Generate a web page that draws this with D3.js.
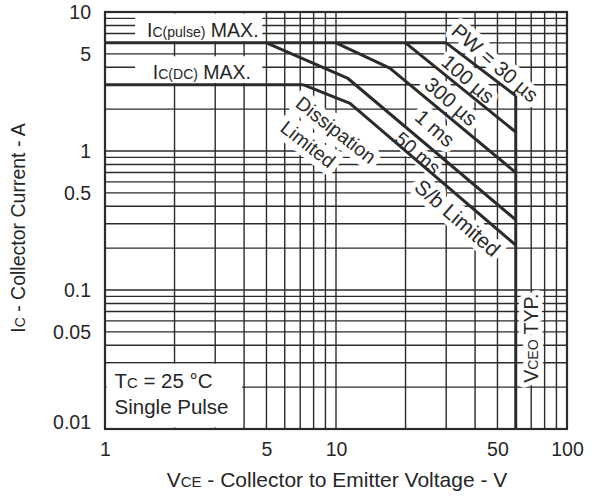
<!DOCTYPE html>
<html>
<head>
<meta charset="utf-8">
<script src="https://cdn.jsdelivr.net/npm/d3@7"></script>
<style>
  body { margin: 0; background: #fff; }
  text { font-family: "Liberation Sans", Arial, Helvetica, sans-serif; fill: #262626; }
</style>
</head>
<body>
<svg id="chart" width="597" height="497"></svg>
<script>
// Axis ticks
const xTicks = [1, 5, 10, 50, 100];
const xTickLabels = ["1", "5", "10", "50", "100"];
const yTicks = [0.01, 0.05, 0.1, 0.5, 1, 5, 10];
const yTickLabels = ["0.01", "0.05", "0.1", "0.5", "1", "5", "10"];

// Log grid lines (V and A)
const gridV = [2, 3, 4, 5, 6, 7, 8, 9, 10, 20, 30, 40, 50, 60, 70, 80, 90];
const gridI = [0.02, 0.03, 0.04, 0.05, 0.06, 0.07, 0.08, 0.09,
               0.1, 0.2, 0.3, 0.4, 0.5, 0.6, 0.7, 0.8, 0.9,
               1, 2, 3, 4, 5, 6, 7, 8, 9];

// Limits
const icPulseMax = [[1, 6], [30, 6]];      // A
const icDcMax    = [[1, 3], [7.2, 3]];     // A
const vceoTyp    = [[60, 2.5], [60, 0.01]]; // V

// Safe operating area boundaries, [VCE (V), IC (A)]
const pw30us  = [[30, 6], [60, 2.5]];
const pw100us = [[20, 6], [60, 1.37]];
const pw300us = [[10, 6], [17.1, 3.95], [60, 0.7]];
const pw1ms   = [[5, 6], [11.2, 3.35], [60, 0.32]];
const pw50ms  = [[7.2, 3], [11.5, 2.2], [60, 0.21]];

const svg = d3.select("#chart");
const margin = { left: 105, right: 30, top: 12, bottom: 68 };
const W = 597, H = 497;

const x = d3.scaleLog().domain([1, 100]).range([margin.left, W - margin.right]);
const y = d3.scaleLog().domain([0.01, 10]).range([H - margin.bottom, margin.top]);

const ink = "#2b2b2b";
const font = "'Liberation Sans', Arial, sans-serif";

// Grid
const grid = svg.append("g");
grid.selectAll("line.v").data(gridV).join("line")
  .attr("x1", d => x(d)).attr("x2", d => x(d))
  .attr("y1", y(10)).attr("y2", y(0.01))
  .attr("stroke", ink).attr("stroke-width", 1.4);
grid.selectAll("line.h").data(gridI).join("line")
  .attr("y1", d => y(d)).attr("y2", d => y(d))
  .attr("x1", x(1)).attr("x2", x(100))
  .attr("stroke", ink).attr("stroke-width", 1.4);

// White boxes behind the horizontal notes
const knock = svg.append("g").attr("fill", "#fff");
knock.append("rect")
  .attr("x", x(1.35)).attr("y", y(10) + 1.5)
  .attr("width", x(4.8) - x(1.35)).attr("height", y(6.15) - y(10) - 1.5);
knock.append("rect")
  .attr("x", x(1.35)).attr("y", y(4.8))
  .attr("width", x(4.8) - x(1.35)).attr("height", y(3.08) - y(4.8));
knock.append("rect")
  .attr("x", x(1) + 1.5).attr("y", y(0.0295))
  .attr("width", x(3.92) - x(1) - 1.5).attr("height", y(0.01) - y(0.0295) - 1.5);

// Rotated annotations: [text, V, I, angle, halo width, font size]
const notes = [
  ["PW = 30 µs", 48.8, 4.3, 41, 11, 20.5],
  ["100 µs", 37.3, 3.3, 41, 11, 20.5],
  ["300 µs", 31.5, 2.27, 41, 11, 20.5],
  ["1 ms", 26.8, 1.46, 41, 11, 20.5],
  ["50 ms", 22.6, 0.967, 41, 8, 19.5],
  ["S/b Limited", 33.6, 0.33, 41, 11, 21],
  ["Dissipation", 10.0, 1.42, 38, 13, 19.5],
  ["Limited", 7.56, 1.12, 38, 13, 19.5]
];

function drawNotes(g, halo) {
  g.selectAll("text").data(notes).join("text")
    .attr("transform", d => `translate(${x(d[1])},${y(d[2])}) rotate(${d[3]})`)
    .attr("text-anchor", "middle").attr("dy", "0.35em")
    .attr("font-size", d => d[5])
    .attr("stroke", halo ? "#fff" : "none")
    .attr("stroke-width", d => halo ? d[4] : 0)
    .attr("stroke-linejoin", "round")
    .style("fill", halo ? "#fff" : ink)
    .text(d => d[0]);
}
drawNotes(svg.append("g"), true);

// VCEO note
function vceoNote(g, halo) {
  const t = g.append("text")
    .attr("transform", `translate(${x(70)},${y(0.045)}) rotate(-90)`)
    .attr("text-anchor", "middle").attr("dy", "0.35em")
    .attr("font-size", 19.5)
    .attr("stroke", halo ? "#fff" : "none")
    .attr("stroke-width", halo ? 10 : 0)
    .attr("stroke-linejoin", "round")
    .style("fill", halo ? "#fff" : ink);
  t.append("tspan").text("V");
  t.append("tspan").attr("font-size", 14).text("CEO");
  t.append("tspan").text(" TYP.");
}
vceoNote(svg.append("g"), true);

// Frame
svg.append("rect")
  .attr("x", x(1)).attr("y", y(10))
  .attr("width", x(100) - x(1)).attr("height", y(0.01) - y(10))
  .attr("fill", "none").attr("stroke", ink).attr("stroke-width", 2.2);

// Boundaries
const line = d3.line().x(d => x(d[0])).y(d => y(d[1]));
const bounds = [icPulseMax, icDcMax, vceoTyp, pw30us, pw100us, pw300us, pw1ms, pw50ms];
svg.append("g").selectAll("path").data(bounds).join("path")
  .attr("d", line)
  .attr("fill", "none").attr("stroke", ink)
  .attr("stroke-width", 3).attr("stroke-linejoin", "round");

// Annotation text
drawNotes(svg.append("g"), false);
vceoNote(svg.append("g"), false);

// Horizontal notes
function subText(g, px, py, main, sub, rest, size) {
  const t = g.append("text").attr("x", px).attr("y", py).attr("font-size", size);
  t.append("tspan").text(main);
  t.append("tspan").attr("font-size", size * 0.72).text(sub);
  if (rest) t.append("tspan").text(rest);
  return t;
}
const noteG = svg.append("g");
subText(noteG, x(1.52), y(6.6), "I", "C(pulse)", " MAX.", 19.5);
subText(noteG, x(1.61), y(3.3), "I", "C(DC)", " MAX.", 19.5);
subText(noteG, x(1.1), y(0.0196), "T", "C", " = 25 °C", 20.5);
noteG.append("text").attr("x", x(1.1)).attr("y", y(0.0128))
  .attr("font-size", 20.5).text("Single Pulse");

// Axes
const xAxis = d3.axisBottom(x).tickValues(xTicks)
  .tickFormat((d, i) => xTickLabels[i]).tickSize(0).tickPadding(13);
const gx = svg.append("g").attr("transform", `translate(0,${y(0.01)})`).call(xAxis);
gx.select(".domain").remove();
gx.selectAll("text").attr("font-size", 19.5).style("font-family", font).attr("fill", ink);

const yAxis = d3.axisLeft(y).tickValues(yTicks)
  .tickFormat((d, i) => yTickLabels[i]).tickSize(0).tickPadding(14);
const gy = svg.append("g").attr("transform", `translate(${x(1)},0)`).call(yAxis);
gy.select(".domain").remove();
gy.selectAll("text").attr("font-size", 19.5).style("font-family", font).attr("fill", ink)
  .attr("dy", d => d === 0.01 ? "-0.05em" : "0.32em");

// Axis titles
const xt = svg.append("text").attr("x", 337).attr("y", 487)
  .attr("text-anchor", "middle").attr("font-size", 21);
xt.append("tspan").text("V");
xt.append("tspan").attr("font-size", 15).text("CE");
xt.append("tspan").text(" - Collector to Emitter Voltage - V");

const yt = svg.append("text")
  .attr("transform", `translate(25,228) rotate(-90)`)
  .attr("text-anchor", "middle").attr("font-size", 19.5);
yt.append("tspan").text("I");
yt.append("tspan").attr("font-size", 14).text("C");
yt.append("tspan").text(" - Collector Current - A");
</script>
</body>
</html>
